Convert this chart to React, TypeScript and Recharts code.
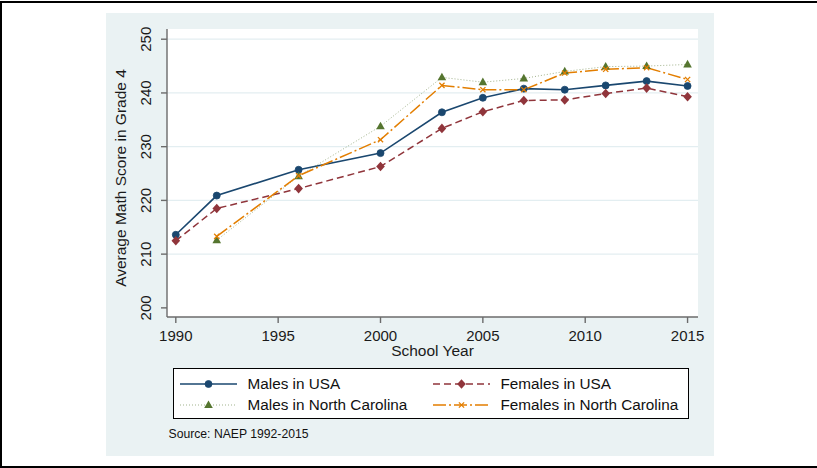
import React from 'react';
import { LineChart, Line, XAxis, YAxis, CartesianGrid, ReferenceLine, Legend, Label } from 'recharts';

// NAEP grade 4 math, average scores by group
const years = [1990, 1992, 1996, 2000, 2003, 2005, 2007, 2009, 2011, 2013, 2015];
const malesUSA = [213.6, 220.9, 225.7, 228.8, 236.4, 239.1, 240.8, 240.6, 241.4, 242.2, 241.3];
const femalesUSA = [212.5, 218.5, 222.2, 226.3, 233.4, 236.5, 238.6, 238.7, 239.9, 240.9, 239.3];
const malesNC = [null, 212.6, 224.5, 233.8, 242.9, 242.0, 242.7, 244.0, 244.9, 245.0, 245.3];
const femalesNC = [null, 213.3, 224.6, 231.3, 241.4, 240.6, 240.6, 243.7, 244.4, 244.7, 242.5];

const xTicks = [1990, 1995, 2000, 2005, 2010, 2015];
const yTicks = [200, 210, 220, 230, 240, 250];
const gridValues = [210, 220, 230, 240, 250];

const FONT = '"Liberation Sans", Arial, Helvetica, sans-serif';
const AXIS = '#6b6b6b';

type MarkerKind = 'circle' | 'diamond' | 'triangle' | 'x';

interface SeriesDef {
  key: string;
  name: string;
  color: string;
  width: number;
  dash?: string;
  opacity?: number;
  marker: MarkerKind;
}

const series: SeriesDef[] = [
  { key: 'mUSA', name: 'Males in USA', color: '#1a476f', width: 1.6, marker: 'circle' },
  { key: 'fUSA', name: 'Females in USA', color: '#90353b', width: 1.5, dash: '7 4', marker: 'diamond' },
  { key: 'mNC', name: 'Males in North Carolina', color: '#55752f', width: 1, dash: '1 2', opacity: 0.55, marker: 'triangle' },
  { key: 'fNC', name: 'Females in North Carolina', color: '#e37e00', width: 1.5, dash: '13 3 2 3', marker: 'x' },
];

const data = years.map((year, i) => ({
  year,
  mUSA: malesUSA[i],
  fUSA: femalesUSA[i],
  mNC: malesNC[i],
  fNC: femalesNC[i],
}));

function marker(kind: MarkerKind, color: string, cx: number, cy: number, key?: React.Key) {
  switch (kind) {
    case 'circle':
      return <circle key={key} cx={cx} cy={cy} r={3.5} fill={color} stroke={color} strokeWidth={0.8} />;
    case 'diamond':
      return (
        <polygon
          key={key}
          points={`${cx},${cy - 4.8} ${cx + 4.3},${cy} ${cx},${cy + 4.8} ${cx - 4.3},${cy}`}
          fill={color}
        />
      );
    case 'triangle':
      return (
        <polygon
          key={key}
          points={`${cx},${cy - 4.6} ${cx + 4.3},${cy + 3} ${cx - 4.3},${cy + 3}`}
          fill={color}
        />
      );
    default:
      return (
        <g key={key} stroke={color} strokeWidth={1.3}>
          <line x1={cx - 2.6} y1={cy - 2.6} x2={cx + 2.6} y2={cy + 2.6} />
          <line x1={cx - 2.6} y1={cy + 2.6} x2={cx + 2.6} y2={cy - 2.6} />
        </g>
      );
  }
}

const renderDot = (s: SeriesDef) => (props: any) => {
  const { cx, cy, index, value } = props;
  if (cx == null || cy == null || value == null) return <g key={`${s.key}-${index}`} />;
  return marker(s.marker, s.color, cx, cy, `${s.key}-${index}`);
};

// rotated y tick labels, as in Stata's default
const YTick = (props: any) => {
  const { x, y, payload } = props;
  return (
    <text
      x={x - 9.5}
      y={y}
      transform={`rotate(-90, ${x - 9.5}, ${y})`}
      textAnchor="middle"
      fontSize={15}
      fontFamily={FONT}
      fill="#1a1a1a"
    >
      {payload.value}
    </text>
  );
};

const LegendBox = () => {
  const colX = [7, 260];
  const rowY = [16.5, 38];
  return (
    <div
      style={{
        width: 516,
        height: 51,
        boxSizing: 'border-box',
        border: '1.5px solid #000',
        background: '#fff',
        position: 'relative',
        fontFamily: FONT,
        fontSize: 15.3,
        color: '#111',
      }}
    >
      {series.map((s, i) => {
        const lx = colX[i % 2];
        const ly = rowY[Math.floor(i / 2)];
        return (
          <React.Fragment key={s.key}>
            <svg
              width={60}
              height={14}
              style={{ position: 'absolute', left: lx - 1.5, top: ly - 8.5 }}
            >
              <line
                x1={0}
                y1={7}
                x2={57}
                y2={7}
                stroke={s.color}
                strokeWidth={s.width}
                strokeDasharray={s.dash}
                strokeOpacity={s.opacity ?? 1}
              />
              {marker(s.marker, s.color, 28.5, 7)}
            </svg>
            <span
              style={{
                position: 'absolute',
                left: lx + 66.5,
                top: ly - 10.5,
                lineHeight: '18px',
                whiteSpace: 'nowrap',
              }}
            >
              {s.name}
            </span>
          </React.Fragment>
        );
      })}
    </div>
  );
};

export default function App() {
  return (
    <div style={{ position: 'absolute', left: 0, top: 0, width: 817, height: 468, background: '#fff' }}>
      {/* outer frame: top, left and bottom rules */}
      <div
        style={{
          position: 'absolute',
          left: 0,
          top: 1,
          width: 817,
          height: 467,
          boxSizing: 'border-box',
          borderTop: '2px solid #000',
          borderLeft: '2px solid #000',
          borderBottom: '2px solid #000',
        }}
      />
      {/* graph region */}
      <div style={{ position: 'absolute', left: 106, top: 13, width: 608, height: 443, background: '#eaf2f3' }} />
      <div style={{ position: 'absolute', left: 0, top: 0 }}>
        <LineChart
          width={817}
          height={468}
          data={data}
          margin={{ top: 29, right: 119, bottom: 111, left: 107 }}
        >
          <CartesianGrid fill="#fff" horizontal={false} vertical={false} stroke="none" />
          {gridValues.map((v) => (
            <ReferenceLine key={v} y={v} stroke="#e3eef1" strokeWidth={1.3} />
          ))}
          <XAxis
            dataKey="year"
            type="number"
            domain={[1989.57, 2015.51]}
            ticks={xTicks}
            allowDataOverflow
            height={40}
            tickSize={6}
            tickMargin={7}
            stroke={AXIS}
            strokeWidth={1.4}
            tick={{ fontSize: 15, fontFamily: FONT, fill: '#1a1a1a' }}
          >
            <Label
              content={(p: any) => {
                const vb = p.viewBox;
                return (
                  <text
                    x={vb.x + vb.width / 2}
                    y={vb.y + 38.5}
                    textAnchor="middle"
                    fontSize={15.5}
                    fontFamily={FONT}
                    fill="#1a1a1a"
                  >
                    School Year
                  </text>
                );
              }}
            />
          </XAxis>
          <YAxis
            type="number"
            domain={[198.3, 251.9]}
            ticks={yTicks}
            allowDataOverflow
            width={60}
            tickSize={6}
            tickMargin={0}
            stroke={AXIS}
            strokeWidth={1.4}
            tick={<YTick />}
          >
            <Label
              content={(p: any) => {
                const vb = p.viewBox;
                const x = vb.x + 18.7;
                const y = vb.y + vb.height / 2 + 5;
                return (
                  <text
                    x={x}
                    y={y}
                    transform={`rotate(-90, ${x}, ${y})`}
                    textAnchor="middle"
                    fontSize={15.5}
                    fontFamily={FONT}
                    fill="#1a1a1a"
                  >
                    Average Math Score in Grade 4
                  </text>
                );
              }}
            />
          </YAxis>
          {series.map((s) => (
            <Line
              key={s.key}
              dataKey={s.key}
              name={s.name}
              type="linear"
              stroke={s.color}
              strokeWidth={s.width}
              strokeDasharray={s.dash}
              strokeOpacity={s.opacity ?? 1}
              dot={renderDot(s)}
              activeDot={false}
              isAnimationActive={false}
            />
          ))}
          <Legend
            layout="horizontal"
            verticalAlign="middle"
            align="center"
            content={() => <LegendBox />}
            wrapperStyle={{ position: 'absolute', left: 173, top: 367.5, width: 516, height: 51, margin: 0 }}
          />
        </LineChart>
      </div>
      <div
        style={{
          position: 'absolute',
          left: 168.5,
          top: 427,
          fontFamily: FONT,
          fontSize: 12.2,
          color: '#111',
          whiteSpace: 'nowrap',
        }}
      >
        Source: NAEP 1992-2015
      </div>
    </div>
  );
}
